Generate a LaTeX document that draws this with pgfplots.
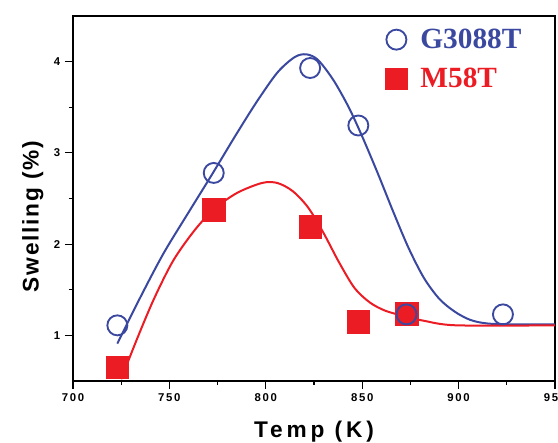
\documentclass[border=0pt]{standalone}
\usepackage{fontspec}
\setmainfont{Liberation Sans}
\newfontfamily\legfont{Liberation Serif}
\usepackage{pgfplots}
\pgfplotsset{compat=1.18}
\usetikzlibrary{calc}

\definecolor{gblue}{RGB}{58,72,160}
\definecolor{mred}{RGB}{236,28,36}

\begin{document}
\begin{tikzpicture}
\begin{axis}[
    name=ax,
    width=361.5pt, height=273.75pt,
    scale only axis,
    xmin=700, xmax=950, ymin=0.5, ymax=4.5,
    xtick={700,750,...,950},
    ytick={1,2,3,4},
    minor x tick num=1,
    minor y tick num=1,
    tick align=outside,
    xtick pos=left, ytick pos=left,
    major tick length=6pt, minor tick length=3pt,
    every tick/.style={black, line width=0.8pt},
    axis line style={line width=0.9pt},
    /pgf/number format/assume math mode=true,
    /pgf/number format/1000 sep={},
    tick label style={font=\fontsize{8.5}{9}\selectfont\bfseries\addfontfeature{LetterSpace=15}},
    xlabel={Temp (K)},
    ylabel={Swelling (\%)},
    xlabel style={font=\fontsize{17}{20}\selectfont\bfseries\addfontfeature{LetterSpace=17}, yshift=-8pt},
    ylabel style={font=\fontsize{17}{20}\selectfont\bfseries\addfontfeature{LetterSpace=8}, yshift=1pt, xshift=-13.5pt},
    legend style={draw=none, fill=none, at={(0.64,0.98)}, anchor=north west,
        font=\legfont\fontsize{22}{26}\selectfont\bfseries,
        row sep=9pt},
    legend cell align=left,
]
% fitted curves
\addplot[gblue, line width=1.5pt, smooth, forget plot] coordinates {
(723,0.91) (735,1.42) (747,1.90) (760,2.35) (772,2.76) (784,3.18) (795,3.55)
(806,3.88) (815,4.05) (821,4.08) (827,4.02) (835,3.80) (843,3.50) (850,3.18)
(858,2.78) (866,2.36) (874,1.96) (882,1.63) (890,1.40) (898,1.26) (906,1.17)
(915,1.13) (930,1.12) (950,1.12)
};
\addplot[mred, line width=1.5pt, smooth, forget plot] coordinates {
(725,0.52) (733,0.95) (742,1.40) (752,1.82) (763,2.15) (773,2.38) (785,2.56)
(798,2.67) (806,2.67) (814,2.58) (822,2.40) (830,2.12) (838,1.80) (846,1.52)
(854,1.36) (862,1.27) (872,1.21) (882,1.16) (899,1.11) (950,1.11)
};
% measured data
\addplot[only marks, mark=square*, mark size=8.5pt, mred, forget plot] coordinates {
(723,0.65) (773,2.38) (823,2.19) (848,1.15) (873,1.24)
};
\addplot[only marks, mark=o, mark size=7.5pt, gblue, line width=1.4pt] coordinates {
(723,1.11) (773,2.78) (823,3.93) (848,3.30) (873,1.23) (923,1.23)
};
\addlegendentry{\hspace{8pt}\textcolor{gblue}{G3088T}}
\addlegendimage{only marks, mark=square*, mark size=8pt, mred}
\addlegendentry{\hspace{8pt}\textcolor{mred}{M58T}}
\end{axis}
\pgfresetboundingbox
\path[use as bounding box] ($(ax.south west)+(-54.75pt,-46.5pt)$) rectangle ($(ax.north east)+(2.25pt,12pt)$);
\end{tikzpicture}
\end{document}
